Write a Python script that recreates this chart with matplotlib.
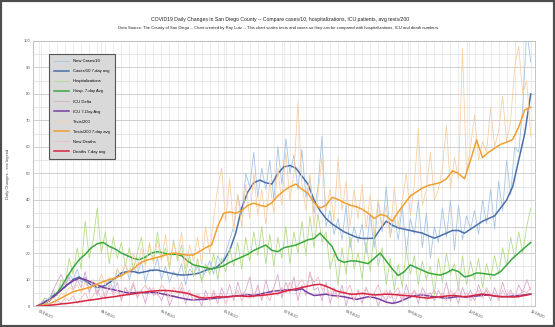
import matplotlib
matplotlib.use('Agg')
import matplotlib.pyplot as plt
import matplotlib.dates as mdates
from matplotlib.patches import Rectangle
import numpy as np
import pandas as pd

plt.rcParams['font.family'] = ['Liberation Sans', 'DejaVu Sans']

# Raw daily series (sampled every 2 days starting 03/17/20)
raw_dates = pd.date_range('2020-03-17', periods=124, freq='2D')
new_cases = [0, 1, 2, 3, 5, 4, 8, 7, 12, 10,
             14, 9, 11, 6, 9, 5, 8, 7, 10, 6,
             14, 11, 16, 10, 15, 12, 17, 9, 14, 13,
             18, 10, 15, 9, 13, 11, 16, 8, 14, 12,
             15, 10, 13, 17, 12, 19, 16, 20, 25, 30,
             42, 34, 50, 45, 58, 41, 52, 44, 55, 40,
             60, 46, 63, 50, 57, 44, 59, 41, 48, 35,
             45, 64, 30, 36, 27, 33, 25, 38, 22, 30,
             24, 31, 20, 35, 22, 40, 28, 45, 26, 34,
             25, 38, 20, 33, 27, 40, 22, 35, 18, 30,
             24, 37, 26, 40, 21, 38, 25, 34, 29, 36,
             27, 40, 31, 44, 29, 47, 36, 55, 42, 60,
             58, 75, 104, 92]
hosp = [0, 1, 3, 2, 6, 4, 10, 8, 18, 12,
        22, 14, 32, 18, 25, 37, 20, 28, 16, 26,
        18, 24, 15, 22, 14, 20, 26, 16, 23, 17,
        28, 18, 22, 14, 25, 17, 23, 12, 19, 11,
        18, 9, 16, 12, 20, 10, 18, 13, 22, 15,
        24, 14, 26, 17, 28, 19, 30, 16, 27, 15,
        26, 18, 30, 16, 28, 20, 32, 19, 34, 22,
        35, 24, 28, 14, 20, 8, 22, 12, 26, 14,
        20, 10, 24, 13, 28, 15, 22, 8, 18, 6,
        16, 7, 21, 12, 19, 8, 17, 10, 15, 4,
        18, 9, 20, 12, 16, 6, 19, 8, 17, 10,
        18, 7, 16, 10, 19, 12, 22, 15, 26, 18,
        28, 20, 30, 37]
icu_delta = [0, 1, 3, 2, 6, 9, 12, 8, 11, 6,
             10, 7, 13, 5, 9, 4, 8, 3, 7, 5,
             9, 2, 7, 4, 8, 3, 6, 1, 7, 4,
             5, 2, 6, 0, 4, 3, 7, 1, 5, 2,
             4, 0, 6, 2, 5, 1, 7, 3, 8, 2,
             9, 4, 6, 11, 3, 8, 2, 10, 4, 7,
             12, 3, 9, 5, 11, 2, 8, 4, 13, 6,
             7, 2, 9, 1, 6, 3, 8, 0, 5, 2,
             6, 1, 7, 3, 5, 0, 4, 2, 6, 1,
             5, 2, 8, 3, 6, 1, 7, 4, 5, 2,
             6, 3, 9, 2, 5, 1, 7, 3, 6, 2,
             8, 4, 6, 2, 7, 3, 9, 4, 6, 3,
             8, 5, 10, 6]
tests = [0, 0, 1, 2, 3, 2, 5, 4, 7, 6,
         8, 5, 9, 6, 10, 7, 12, 8, 11, 9,
         14, 10, 16, 12, 20, 14, 22, 15, 24, 16,
         25, 17, 27, 15, 24, 18, 28, 14, 23, 17,
         26, 16, 30, 20, 33, 45, 52, 32, 48, 28,
         42, 30, 46, 33, 50, 34, 44, 31, 47, 35,
         52, 38, 58, 40, 50, 77, 46, 36, 50, 30,
         42, 56, 36, 44, 32, 56, 36, 47, 30, 44,
         33, 46, 29, 42, 27, 40, 30, 38, 26, 45,
         30, 40, 50, 34, 46, 67, 38, 44, 58, 40,
         44, 52, 68, 44, 56, 48, 97, 50, 60, 72,
         55, 62, 58, 75, 60, 66, 79, 62, 70, 90,
         98, 80, 85, 64]
new_deaths = [0, 0, 0, 1, 0, 2, 1, 3, 2, 4,
              1, 3, 5, 2, 4, 6, 3, 5, 8, 4,
              6, 3, 7, 5, 9, 4, 6, 8, 5, 7,
              4, 8, 6, 3, 7, 5, 9, 4, 6, 2,
              5, 3, 4, 2, 6, 3, 5, 1, 4, 3,
              6, 2, 5, 3, 4, 7, 3, 5, 2, 6,
              4, 7, 5, 9, 6, 8, 10, 7, 12, 9,
              11, 6, 8, 4, 7, 3, 6, 5, 8, 2,
              6, 4, 7, 3, 5, 8, 4, 6, 3, 5,
              7, 2, 5, 4, 6, 3, 5, 2, 4, 6,
              3, 5, 2, 6, 4, 7, 3, 5, 2, 4,
              6, 3, 7, 4, 5, 2, 6, 3, 5, 4,
              3, 6, 5, 7]

# 7-day averages (sampled every 3 days starting 03/17/20)
avg_dates = pd.date_range('2020-03-17', periods=83, freq='3D')
cases_avg = [0, 1.2, 2.5, 4.5, 6, 8, 10, 11, 9.5, 8,
             7, 7.5, 8.8, 10.5, 12.5, 13, 13, 12.5, 13, 13.5,
             13.6, 13, 12.5, 12, 11.7, 11.8, 12, 12.5, 13.5, 14,
             15, 17, 21, 27.5, 37, 43, 46.5, 47.5, 46.5, 46,
             50, 52.5, 53, 52, 49, 46, 40, 36, 33, 31,
             29.5, 28, 27, 26, 25.5, 25.5, 25.6, 29, 32, 30.5,
             29.5, 29, 28.5, 28, 27.5, 26.5, 25.6, 26.5, 27.5, 28.5,
             28.5, 27.5, 29, 30.5, 32, 33, 34, 37, 40, 45,
             55, 65, 80]
hosp_avg = [0, 0.5, 2, 4, 7, 11, 14.5, 17.5, 19.5, 22,
            23.5, 24, 22.5, 21.5, 20, 19, 18, 17.5, 18.5, 20,
            20.5, 20, 19.5, 19.5, 19, 17, 15.5, 15, 14.5, 14,
            14.5, 15.2, 16.5, 17.5, 18.5, 19.5, 21, 22, 23, 21,
            20.5, 22, 22.5, 23, 24, 25, 25.5, 27.5, 25, 22.5,
            17.5, 16.5, 17, 17, 16.5, 16, 18, 20, 17, 14,
            11.5, 13, 15.5, 14.5, 13.5, 12.5, 12, 11.7, 12.5, 13.8,
            13, 11, 11.5, 12.5, 12.3, 12, 11.7, 13, 15.5, 18,
            20, 22, 24]
icu_avg = [0, 1, 2, 4, 6, 8, 9.5, 10.5, 10, 9,
           8, 7, 6.5, 6, 5.5, 5, 5, 5.2, 5, 5.2,
           5, 4.5, 4, 3.5, 3, 2.5, 2.3, 2.5, 2.5, 2.8,
           3, 3.3, 3.5, 3.8, 4, 4.3, 4, 4.5, 5, 5.5,
           5.8, 6, 6.2, 6, 6.5, 5, 4, 4.2, 4.5, 4,
           3.8, 3.5, 3, 2.5, 3, 3.5, 3.2, 2.5, 1.5, 1,
           1.5, 2.5, 3.5, 4, 4.2, 3.8, 3.5, 3.2, 3, 3.3,
           3.6, 3.4, 3.5, 3.8, 4, 4.2, 3.8, 3.5, 3.6, 3.8,
           4, 4.2, 4.5]
tests_avg = [0, 0.4, 0.9, 1.8, 3, 4.2, 5.4, 6, 6.6, 7.2,
             8.3, 9.2, 10, 10.6, 11.5, 12.8, 14, 16, 17.2, 17.8,
             18.4, 19, 19.8, 20, 19.5, 19.2, 19.3, 20.6, 22, 23,
             30, 35, 35.5, 35, 36, 38, 38.8, 38, 37.5, 39,
             41.5, 43.5, 45, 46, 44, 42.5, 39, 37, 38, 41,
             40.2, 39, 38, 37.5, 36.5, 35, 33, 34.5, 34, 32,
             35.5, 38.5, 41.5, 43, 44.5, 45.5, 46, 46.6, 48, 51,
             50, 48, 55, 62.6, 56, 58, 59.5, 61, 61.8, 62.8,
             67.5, 74, 75]
deaths_avg = [0, 0, 0.3, 0.5, 0.8, 1, 1.3, 1.6, 2, 2.3,
              2.6, 3, 3.3, 3.6, 4, 4.3, 4.6, 5, 5.3, 5.6,
              5.8, 5.9, 5.8, 5.5, 5.2, 4.8, 4, 3.2, 3, 3.2,
              3.5, 3.4, 3.6, 3.8, 3.8, 3.6, 3.8, 4, 4.2, 4.5,
              4.8, 5.5, 6, 6.5, 7, 7.5, 8, 8.2, 7.5, 6.5,
              5.5, 5, 4.5, 4.5, 4.8, 4.5, 4.2, 4.3, 4.5, 4.4,
              4.2, 4, 3.8, 3.5, 3.2, 3, 3.3, 3.5, 3.8, 4,
              3.8, 3.5, 3.8, 4.2, 4.5, 4.2, 3.8, 3.6, 3.5, 3.4,
              3.6, 4, 4.5]

fig = plt.figure(figsize=(5.55, 3.27), dpi=100)
ax = fig.add_axes([0.0595, 0.064, 0.904, 0.811])

thin = 0.6
thick = 1.1
ax.plot(raw_dates, new_cases, color='#a6c4e4', lw=thin, label='New Cases/10')
ax.plot(avg_dates, cases_avg, color='#4a6fa8', lw=thick, label='Cases/10 7-day avg')
ax.plot(raw_dates, hosp, color='#b5dc8a', lw=thin, label='Hospitalizations')
ax.plot(avg_dates, hosp_avg, color='#3aa83e', lw=thick, label='Hosp. 7-day Avg')
ax.plot(raw_dates, icu_delta, color='#d9aad2', lw=thin, label='ICU Delta')
ax.plot(avg_dates, icu_avg, color='#7a3f9e', lw=thick, label='ICU 7-Day Avg')
ax.plot(raw_dates, tests, color='#f8d0a4', lw=thin, label='Tests/200')
ax.plot(avg_dates, tests_avg, color='#f0a030', lw=thick, label='Tests/200 7-day avg')
ax.plot(raw_dates, new_deaths, color='#f3b8c2', lw=thin, label='New Deaths')
ax.plot(avg_dates, deaths_avg, color='#d8243e', lw=thick, label='Deaths 7-day avg')

ax.set_xlim(pd.Timestamp('2020-03-15'), pd.Timestamp('2020-11-20'))
ax.set_ylim(0, 100)
ax.set_yticks(np.arange(0, 101, 10))
ax.set_yticks(np.arange(5, 100, 10), minor=True)
major_x = [pd.Timestamp(f'2020-{m:02d}-18') for m in range(3, 12)]
ax.set_xticks(major_x)
ax.set_xticks(pd.date_range('2020-03-15', '2020-11-20', freq='4D'), minor=True)
ax.xaxis.set_major_formatter(mdates.DateFormatter('%m/%d/%y'))
plt.setp(ax.get_xticklabels(), rotation=-25, ha='left', va='top', rotation_mode='anchor')
ax.tick_params(axis='both', labelsize=3, colors='#555555', length=0, pad=2, which='both')
ax.grid(True, which='major', axis='y', color='#c8c8c8', lw=0.6)
ax.grid(True, which='minor', axis='y', color='#dcdcdc', lw=0.5)
ax.grid(True, which='both', axis='x', color='#e4e4e4', lw=0.5)
ax.set_axisbelow(True)
for s in ax.spines.values():
    s.set_color('#bbbbbb')
    s.set_linewidth(0.6)

ax.set_ylabel('Daily Changes - see legend', fontsize=3, color='#444444', labelpad=10)

leg = ax.legend(loc='upper left', bbox_to_anchor=(0.028, 0.957), fontsize=3,
                frameon=True, fancybox=False, handlelength=3.5, labelspacing=1.45,
                borderpad=1.2, handletextpad=1.0)
leg.get_frame().set_facecolor('#d9d9d9')
leg.get_frame().set_edgecolor('#555555')
leg.get_frame().set_linewidth(0.8)
leg.get_frame().set_alpha(1)

fig.text(0.505, 0.939, 'COVID19 Daily Changes in San Diego County -- Compare cases/10, hospitalizations, ICU patients, avg tests/200',
         ha='center', va='center', fontsize=3.7, color='#222222')
fig.text(0.502, 0.914, 'Data Source: The County of San Diego -- Chart created by Ray Lutz -- This chart scales tests and cases so they can be compared with hospitalizations, ICU and death numbers.',
         ha='center', va='center', fontsize=2.95, color='#222222')

fig.patches.append(Rectangle((0, 0), 1, 1, transform=fig.transFigure, fill=False,
                             edgecolor='#4d4d4d', lw=3))

fig.savefig('out.png', dpi=100)
